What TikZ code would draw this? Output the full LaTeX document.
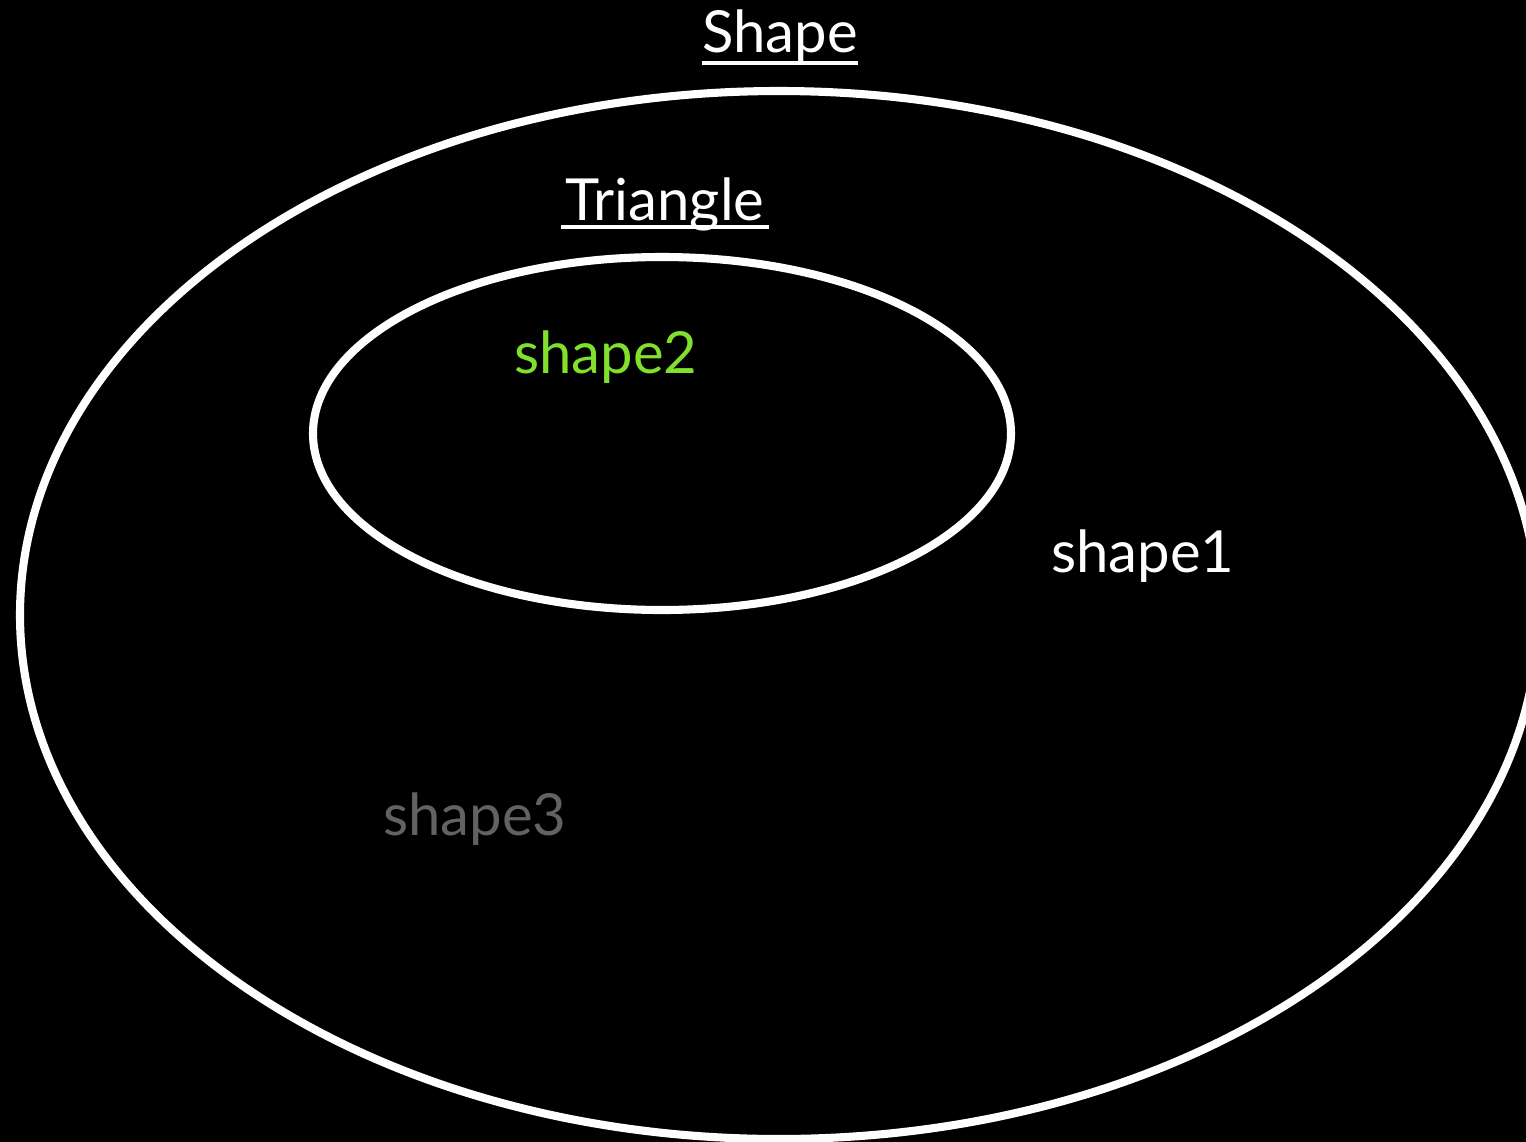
\documentclass[tikz,border=0pt]{standalone}
\usepackage{fontspec}
\usetikzlibrary{calc}
\setmainfont{Lato}
\definecolor{limegreen}{HTML}{80E02C}
\definecolor{dimgray}{HTML}{626262}
\begin{document}
\begin{tikzpicture}[x=0.01cm,y=-0.01cm,
  ring/.style={draw=white,line width=2.3pt},
  lbl/.style={anchor=base,inner sep=0pt,font=\fontsize{16.5}{18}\selectfont},
  uline/.style={draw=white,line width=0.9pt},
  ]
\fill[black] (0,0) rectangle (1526,1142);
\useasboundingbox (0,0) rectangle (1526,1142);
\begin{scope}
\clip (0,0) rectangle (1526,1142);
\draw[ring] (779,615) ellipse [x radius=759, y radius=524];
\end{scope}
\draw[ring] (662,433.5) ellipse [x radius=349, y radius=176.5];
\node[lbl,text=white] (shape) at (780,52) {Shape};
\node[lbl,text=white] (triangle) at (665,220) {Triangle};
\draw[uline] ($(shape.base west)+(0,11)$) -- ($(shape.base east)+(0,11)$);
\draw[uline] ($(triangle.base west)+(-4,7)$) -- ($(triangle.base east)+(4,7)$);
\node[lbl,text=limegreen] (shape2) at (606,373) {shape2};
\node[lbl,text=white] (shape1) at (1143,572) {shape1};
\node[lbl,text=dimgray] (shape3) at (475,835) {shape3};
\end{tikzpicture}
\end{document}
